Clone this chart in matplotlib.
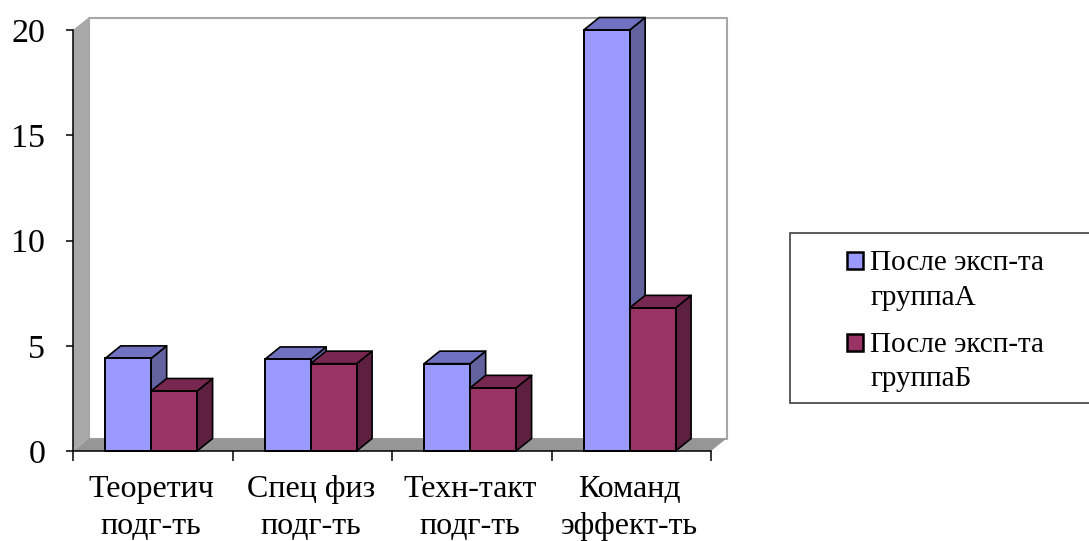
import matplotlib
matplotlib.use('agg')
import matplotlib.pyplot as plt
from matplotlib.patches import Polygon, Rectangle

categories = ["Теоретич\nподг-ть", "Спец физ\nподг-ть", "Техн-такт\nподг-ть", "Команд\nэффект-ть"]
group_a = [4.4, 4.35, 4.15, 20.0]
group_b = [2.85, 4.15, 3.0, 6.8]
label_a = "После эксп-та\nгруппаА"
label_b = "После эксп-та\nгруппаБ"
yticks = [0, 5, 10, 15, 20]

plt.rcParams['font.family'] = ['Liberation Serif', 'DejaVu Serif']

W, H = 1089, 541
fig = plt.figure(figsize=(W/100, H/100), dpi=100)
ax = fig.add_axes([73/W, 1-451/H, (711-73)/W, (451-30)/H])
ax.set_xlim(0, 4)
ax.set_ylim(0, 20)

# depth of the fake 3d, in data units
dx = 15.5/159.5
dy = 12.5/21.05
bar_w = 0.288


def poly(pts, fc, ec='none', lw=0, z=1):
    ax.add_patch(Polygon(pts, closed=True, fc=fc, ec=ec, lw=lw, zorder=z, clip_on=False, joinstyle='round'))


# walls and floor
poly([(dx, dy), (4+dx, dy), (4+dx, 20+dy), (dx, 20+dy)], 'white', '#a6a6a6', 1.5, 1)
poly([(0, 0), (dx, dy), (dx, 20+dy), (0, 20)], '#a8a8a8', z=1.5)
poly([(0, 0), (4, 0), (4+dx, dy), (dx, dy)], '#969696', z=1.5)


def bar3d(x, h, front, side, top, z):
    ax.bar(x, h, width=bar_w, align='edge', color=front, edgecolor='black', linewidth=1.4, zorder=z+0.2, clip_on=False)
    r = x+bar_w
    poly([(r, 0), (r+dx, dy), (r+dx, h+dy), (r, h)], side, 'black', 1.2, z)
    poly([(x, h), (r, h), (r+dx, h+dy), (x+dx, h+dy)], top, 'black', 1.2, z)


for i in range(len(categories)):
    c = i+0.49
    bar3d(c-bar_w, group_a[i], '#9999ff', '#62629f', '#7171c2', 3+i)
    bar3d(c, group_b[i], '#993366', '#5e2040', '#782850', 3.5+i)

for s in ['top', 'right']:
    ax.spines[s].set_visible(False)
for s in ['left', 'bottom']:
    ax.spines[s].set_color('black')
    ax.spines[s].set_linewidth(1.1)
    ax.spines[s].set_zorder(2)

ax.set_yticks(yticks)
ax.set_xticks(range(5))
ax.set_xticklabels([])
ax.set_xticks([i+0.49 for i in range(4)], labels=categories, minor=True)
ax.tick_params(axis='x', which='major', length=7.5, width=1.1)
ax.tick_params(axis='x', which='minor', length=0, pad=17, labelsize=23)
ax.tick_params(axis='y', length=5, width=1.1, pad=15, labelsize=24.5)
for t in ax.get_xminorticklabels():
    t.set_linespacing(1.37)

# legend box runs off the right side of the picture
fig.patches.append(Rectangle((790/W, 1-403/H), 320/W, 170/H, transform=fig.transFigure,
                             fc='white', ec='#404040', lw=1.2, figure=fig))
handles = [Rectangle((0, 0), 1, 1, fc='#9999ff', ec='black', lw=1.8),
           Rectangle((0, 0), 1, 1, fc='#993366', ec='black', lw=1.8)]
leg = fig.legend(handles, [label_a, label_b], loc='upper left', bbox_to_anchor=(847/W, 1-250/H),
                 frameon=False, fontsize=21, handlelength=0.55, handleheight=0.55,
                 handletextpad=0.25, labelspacing=0.73, borderpad=0, borderaxespad=0)
for t in leg.get_texts():
    t.set_linespacing(1.43)
# handles sit next to the first text line, not the middle of the label
for h in leg.legend_handles:
    h.set_y(h.get_y()+14)

fig.savefig('out.png', dpi=100)
